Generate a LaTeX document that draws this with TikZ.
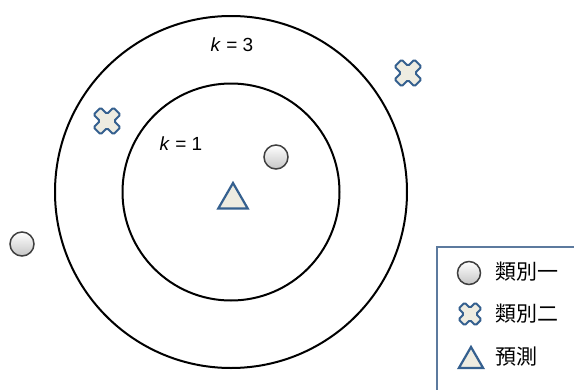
\documentclass[tikz,border=0pt]{standalone}
\usepackage{fontspec}
\setmainfont{Liberation Sans}
\newfontfamily\cjk{Noto Sans CJK TC}
\usetikzlibrary{shapes.geometric}
\definecolor{knnAzul}{HTML}{35608F}
\definecolor{knnCrema}{HTML}{EEECE1}
\definecolor{knnGris}{HTML}{3F3F3F}
\definecolor{knnBorde}{HTML}{5C7A9E}

\begin{document}
\begin{tikzpicture}[x=1pt, y=-1pt,
      ring/.style={draw=black, line width=2pt},
      dot/.style={circle, draw=knnGris, line width=1.5pt, top color=white,
                  bottom color=gray!45, minimum size=#1, inner sep=0pt},
      dot/.default=24pt,
      tri/.style={regular polygon, regular polygon sides=3, draw=knnAzul,
                  line width=2.2pt, fill=knnCrema, minimum size=#1, inner sep=0pt},
      tri/.default=34pt,
      lbl/.style={font=\fontsize{19}{21}\selectfont, inner sep=0pt},
      leg/.style={font=\cjk\fontsize{21}{23}\selectfont, anchor=west, inner sep=0pt},
      xmark/.pic={\draw[draw=knnAzul, line width=2pt, fill=knnCrema,
                  rounded corners=1.5pt, rotate=45]
                  (5,5) -- (5,14) -- (-5,14) -- (-5,5) -- (-14,5)
                  -- (-14,-5) -- (-5,-5) -- (-5,-14) -- (5,-14)
                  -- (5,-5) -- (14,-5) -- (14,5) -- cycle;}]
    \useasboundingbox (0,0) rectangle (574,389);
    \fill[white] (0,0) rectangle (574,389);
    \coordinate (ctr) at (231,192);
    \draw[ring] (ctr) circle[radius=176pt];
    \draw[ring] (ctr) circle[radius=108.5pt];
    \node[lbl] (k3) at (232,45) {\textit{k} = 3};
    \node[lbl] (k1) at (181,144) {\textit{k} = 1};
    % muestras
    \node[dot] (a1) at (276,157) {};
    \node[dot] (a2) at (22,244) {};
    \pic (b1) at (107,121) {xmark};
    \pic (b2) at (408,73) {xmark};
    \node[tri] (p) at (233,200) {};
    % leyenda
    \draw[draw=knnBorde, line width=1.5pt] (437,247) rectangle (590,400);
    \node[dot=23pt] (la) at (469,273) {};
    \node[leg] (ta) at (495,272) {類別一};
    \pic[scale=0.85] (lb) at (470,314) {xmark};
    \node[leg] (tb) at (495,314) {類別二};
    \node[tri=28pt] (lp) at (471,361) {};
    \node[leg] (tp) at (495,357) {預測};
\end{tikzpicture}
\end{document}
